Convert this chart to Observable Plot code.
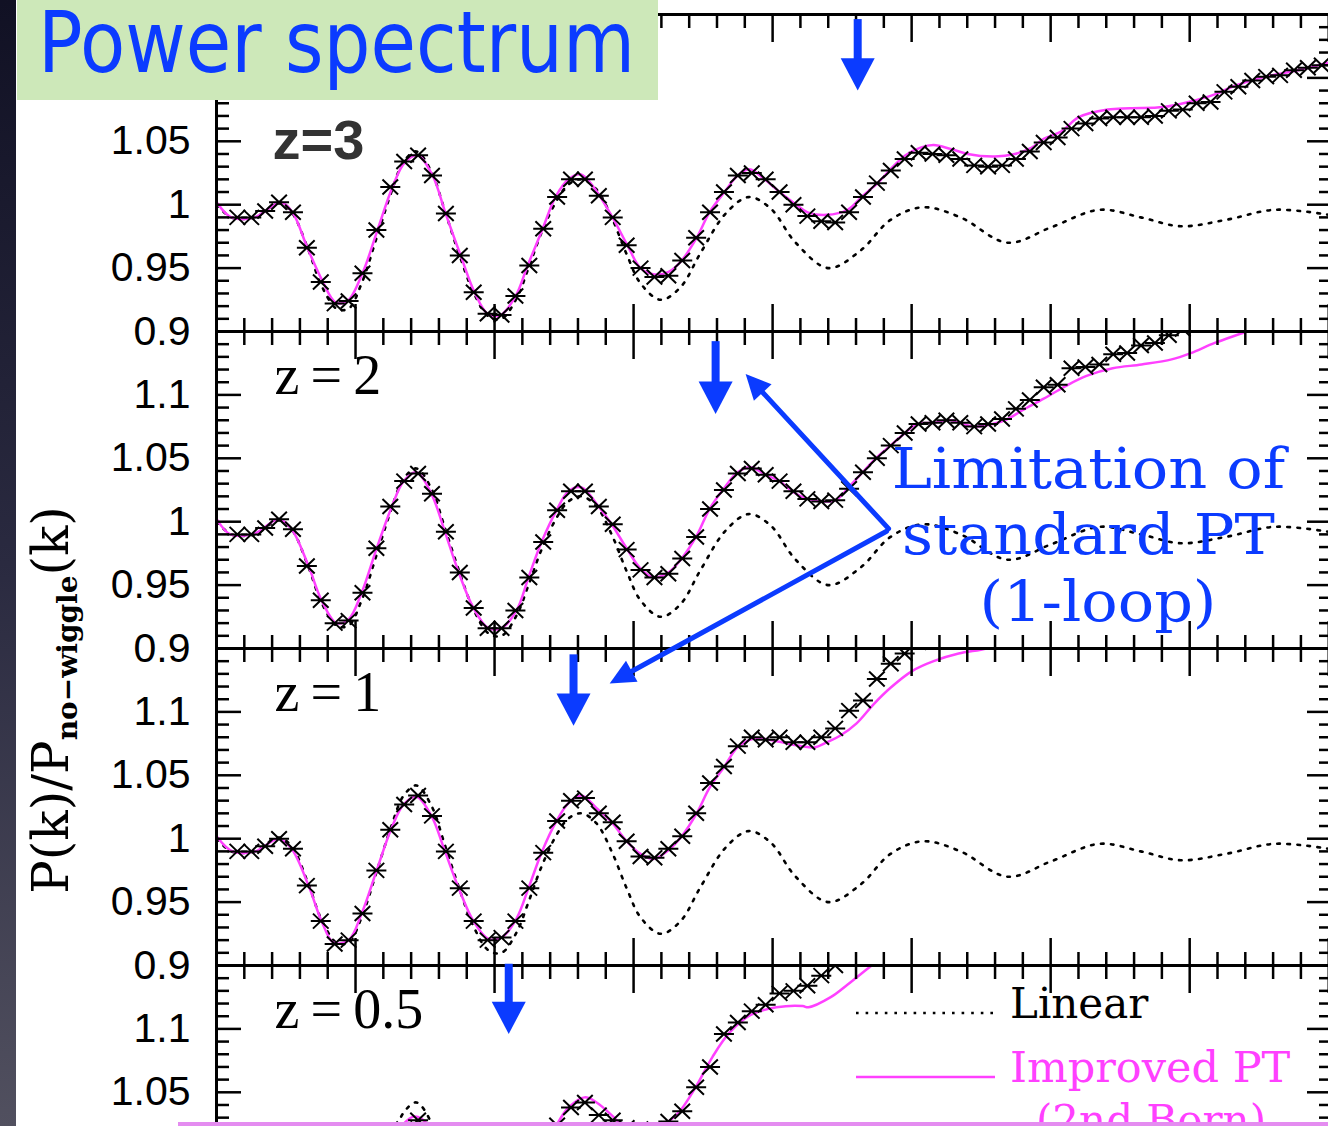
<!DOCTYPE html>
<html><head><meta charset="utf-8">
<script src="https://cdn.jsdelivr.net/npm/d3@7"></script>
<script src="https://cdn.jsdelivr.net/npm/@observablehq/plot@0.6"></script>
<style>
html,body{margin:0;padding:0;background:#fff;overflow:hidden;width:1328px;height:1126px;}
#wrap{position:relative;width:1328px;height:1126px;overflow:hidden;background:#fff;}
#chart{position:absolute;left:0;top:0;}
#overlay{position:absolute;left:0;top:0;pointer-events:none;}
</style></head>
<body><div id="wrap"><div id="chart"></div><svg id="overlay" width="1328" height="1126"></svg></div>
<script>
// ---------- data ----------
const PANELS = ["3", "2", "1", "0.5"];
const PANEL_LABELS = ["z=3", "z\u2009=\u20092", "z\u2009=\u20091", "z\u2009=\u20090.5"];

// Linear theory ratio (same in every panel)
const LIN_K = [0, 0.0054, 0.0137, 0.0223, 0.027, 0.0331, 0.0378, 0.0432, 0.0475, 0.0522, 0.0576, 0.0629, 0.0673, 0.0719, 0.0773, 0.082, 0.0871, 0.0924, 0.0978, 0.1025, 0.1079, 0.1122, 0.1169, 0.1223, 0.1266, 0.1313, 0.1367, 0.1421, 0.1475, 0.1525, 0.1597, 0.1669, 0.1741, 0.1831, 0.1914, 0.1993, 0.2083, 0.2201, 0.2317, 0.2424, 0.254, 0.2676, 0.2845, 0.3, 0.3176, 0.3324, 0.3468, 0.3629, 0.3806, 0.4];
const LIN_V = [1.000, 0.990, 0.990, 1.001, 0.994, 0.964, 0.936, 0.918, 0.918, 0.938, 0.974, 1.010, 1.034, 1.042, 1.026, 0.996, 0.962, 0.931, 0.912, 0.910, 0.926, 0.950, 0.978, 1.003, 1.016, 1.020, 1.012, 0.990, 0.961, 0.938, 0.925, 0.935, 0.962, 0.993, 1.006, 0.997, 0.970, 0.950, 0.964, 0.988, 0.998, 0.990, 0.970, 0.982, 0.996, 0.990, 0.983, 0.988, 0.996, 0.992];

// Improved PT (2nd Born)
const PT3_K = [0.0004, 0.0054, 0.0137, 0.023, 0.0273, 0.0327, 0.0381, 0.0428, 0.0471, 0.0525, 0.0579, 0.0633, 0.0676, 0.0723, 0.0777, 0.0824, 0.0878, 0.0928, 0.0975, 0.1022, 0.1076, 0.1119, 0.1173, 0.1219, 0.1266, 0.1309, 0.1356, 0.1424, 0.1478, 0.1525, 0.1576, 0.1626, 0.1673, 0.1727, 0.1773, 0.1827, 0.1874, 0.1917, 0.1971, 0.2025, 0.2079, 0.2126, 0.2194, 0.227, 0.2324, 0.2378, 0.2424, 0.2478, 0.2532, 0.2579, 0.264, 0.2701, 0.2799, 0.2871, 0.2932, 0.2975, 0.304, 0.3101, 0.3205, 0.3284, 0.3406, 0.3496, 0.359, 0.3665, 0.3773, 0.3867, 0.4];
const PT3_V = [1.001, 0.990, 0.990, 1.002, 0.994, 0.966, 0.940, 0.923, 0.924, 0.946, 0.980, 1.014, 1.033, 1.039, 1.023, 0.993, 0.960, 0.931, 0.914, 0.913, 0.928, 0.952, 0.981, 1.006, 1.020, 1.024, 1.014, 0.990, 0.968, 0.950, 0.945, 0.947, 0.956, 0.974, 0.994, 1.010, 1.023, 1.028, 1.020, 1.010, 1.001, 0.994, 0.992, 0.996, 1.007, 1.017, 1.028, 1.039, 1.045, 1.047, 1.044, 1.040, 1.038, 1.040, 1.045, 1.052, 1.058, 1.069, 1.075, 1.076, 1.077, 1.081, 1.087, 1.094, 1.101, 1.105, 1.112];

const PT2_K = [0.0004, 0.005, 0.014, 0.0223, 0.027, 0.0331, 0.0378, 0.0432, 0.0475, 0.0522, 0.0576, 0.0629, 0.0673, 0.0719, 0.0773, 0.082, 0.0871, 0.0924, 0.0978, 0.1025, 0.1079, 0.1122, 0.1169, 0.1223, 0.1266, 0.1313, 0.1374, 0.1421, 0.1475, 0.1525, 0.1572, 0.1626, 0.1673, 0.1727, 0.1773, 0.1824, 0.1874, 0.1921, 0.1975, 0.2025, 0.2076, 0.2126, 0.2173, 0.2227, 0.2273, 0.2324, 0.2371, 0.2424, 0.2471, 0.2518, 0.2579, 0.264, 0.2723, 0.2791, 0.2845, 0.2899, 0.2975, 0.3054, 0.3129, 0.3223, 0.3327, 0.3435, 0.3504, 0.359, 0.3705, 0.3827];
const PT2_V = [1.001, 0.990, 0.991, 1.002, 0.994, 0.965, 0.938, 0.920, 0.923, 0.944, 0.979, 1.011, 1.032, 1.039, 1.022, 0.993, 0.960, 0.932, 0.916, 0.916, 0.930, 0.956, 0.984, 1.009, 1.024, 1.027, 1.012, 0.998, 0.979, 0.963, 0.956, 0.960, 0.971, 0.989, 1.010, 1.026, 1.039, 1.043, 1.037, 1.032, 1.023, 1.018, 1.016, 1.017, 1.027, 1.039, 1.050, 1.060, 1.069, 1.077, 1.078, 1.080, 1.075, 1.077, 1.081, 1.088, 1.097, 1.107, 1.115, 1.121, 1.124, 1.128, 1.133, 1.141, 1.150, 1.160];

const PT1_K = [0.0004, 0.0058, 0.014, 0.0223, 0.027, 0.0331, 0.0378, 0.0421, 0.0475, 0.0522, 0.0576, 0.0629, 0.0673, 0.0719, 0.0773, 0.082, 0.0871, 0.0924, 0.0978, 0.1025, 0.1079, 0.1122, 0.1169, 0.1223, 0.1266, 0.1313, 0.1367, 0.1421, 0.1475, 0.1525, 0.1572, 0.1626, 0.1673, 0.1727, 0.1773, 0.1827, 0.1874, 0.1935, 0.2011, 0.2104, 0.2151, 0.2194, 0.2241, 0.2302, 0.2363, 0.2424, 0.25, 0.2579, 0.2669, 0.277, 0.2856];
const PT1_V = [1.001, 0.990, 0.990, 1.000, 0.992, 0.963, 0.935, 0.918, 0.920, 0.941, 0.975, 1.008, 1.027, 1.033, 1.018, 0.991, 0.961, 0.935, 0.921, 0.922, 0.937, 0.961, 0.989, 1.014, 1.028, 1.034, 1.024, 1.013, 0.998, 0.988, 0.984, 0.991, 1.002, 1.020, 1.040, 1.057, 1.072, 1.079, 1.077, 1.073, 1.072, 1.076, 1.081, 1.091, 1.106, 1.119, 1.132, 1.140, 1.146, 1.150, 1.156];

const PT05_K = [0.0004, 0.0058, 0.014, 0.0223, 0.027, 0.0331, 0.0378, 0.0432, 0.0475, 0.0522, 0.0576, 0.0629, 0.0669, 0.0712, 0.0763, 0.082, 0.0871, 0.0924, 0.0978, 0.1025, 0.1079, 0.1122, 0.1169, 0.1223, 0.1266, 0.1324, 0.1367, 0.1421, 0.146, 0.1525, 0.1572, 0.1608, 0.1662, 0.1723, 0.1784, 0.1845, 0.1921, 0.2014, 0.2108, 0.2129, 0.2209, 0.227, 0.2356, 0.2446];
const PT05_V = [1.001, 0.991, 0.991, 1.000, 0.993, 0.968, 0.944, 0.929, 0.930, 0.947, 0.977, 1.006, 1.024, 1.031, 1.024, 0.993, 0.966, 0.944, 0.933, 0.935, 0.950, 0.973, 0.998, 1.024, 1.038, 1.046, 1.042, 1.032, 1.024, 1.016, 1.018, 1.024, 1.034, 1.054, 1.078, 1.097, 1.111, 1.117, 1.118, 1.117, 1.125, 1.135, 1.150, 1.165];

// N-body measurements (bin centres)
const K_NB = [0.0075, 0.0125, 0.0175, 0.0225, 0.0275, 0.0325, 0.0375, 0.0425, 0.0475, 0.0525, 0.0575, 0.0625, 0.0675, 0.0725, 0.0775, 0.0825, 0.0875, 0.0925, 0.0975, 0.1025, 0.1075, 0.1125, 0.1175, 0.1225, 0.1275, 0.1325, 0.1375, 0.1425, 0.1475, 0.1525, 0.1575, 0.1625, 0.1675, 0.1725, 0.1775, 0.1825, 0.1875, 0.1925, 0.1975, 0.2025, 0.2075, 0.2125, 0.2175, 0.2225, 0.2275, 0.2325, 0.2375, 0.2425, 0.2475, 0.2525, 0.2575, 0.2625, 0.2675, 0.2725, 0.2775, 0.2825, 0.2875, 0.2925, 0.2975, 0.3025, 0.3075, 0.3125, 0.3175, 0.3225, 0.3275, 0.3325, 0.3375, 0.3425, 0.3475, 0.3525, 0.3575, 0.3625, 0.3675, 0.3725, 0.3775, 0.3825, 0.3875, 0.3925, 0.3975];
const NB3 = [0.990, 0.990, 0.995, 1.002, 0.994, 0.966, 0.939, 0.922, 0.924, 0.946, 0.980, 1.014, 1.034, 1.039, 1.023, 0.993, 0.960, 0.931, 0.914, 0.913, 0.928, 0.952, 0.981, 1.006, 1.020, 1.020, 1.007, 0.990, 0.968, 0.950, 0.943, 0.944, 0.956, 0.974, 0.994, 1.010, 1.023, 1.025, 1.020, 1.010, 1.000, 0.991, 0.987, 0.986, 0.994, 1.006, 1.017, 1.027, 1.036, 1.041, 1.040, 1.039, 1.036, 1.031, 1.030, 1.031, 1.036, 1.042, 1.049, 1.053, 1.060, 1.064, 1.068, 1.069, 1.069, 1.069, 1.070, 1.074, 1.075, 1.080, 1.081, 1.089, 1.093, 1.098, 1.101, 1.102, 1.106, 1.108, 1.110];
const NB2 = [0.990, 0.990, 0.995, 1.002, 0.994, 0.965, 0.938, 0.920, 0.922, 0.944, 0.979, 1.012, 1.032, 1.038, 1.022, 0.992, 0.960, 0.932, 0.916, 0.916, 0.930, 0.956, 0.984, 1.009, 1.024, 1.024, 1.012, 0.998, 0.978, 0.962, 0.956, 0.959, 0.971, 0.988, 1.010, 1.025, 1.038, 1.042, 1.037, 1.032, 1.024, 1.018, 1.016, 1.017, 1.026, 1.039, 1.050, 1.060, 1.070, 1.077, 1.078, 1.080, 1.078, 1.075, 1.077, 1.081, 1.089, 1.096, 1.106, 1.108, 1.121, 1.122, 1.124, 1.132, 1.133, 1.139, 1.141, 1.147, 1.152, 1.158];
const NB1 = [0.990, 0.990, 0.994, 1.000, 0.992, 0.963, 0.935, 0.917, 0.920, 0.941, 0.975, 1.007, 1.027, 1.034, 1.018, 0.990, 0.961, 0.935, 0.920, 0.922, 0.935, 0.961, 0.989, 1.014, 1.030, 1.032, 1.020, 1.013, 0.998, 0.986, 0.985, 0.992, 1.002, 1.020, 1.044, 1.057, 1.073, 1.080, 1.078, 1.080, 1.076, 1.076, 1.080, 1.087, 1.101, 1.109, 1.126, 1.138, 1.146, 1.155];
const NB05 = [0.990, 0.990, 0.994, 1.000, 0.993, 0.966, 0.940, 0.925, 0.926, 0.945, 0.975, 1.004, 1.021, 1.028, 1.016, 0.991, 0.963, 0.941, 0.930, 0.932, 0.948, 0.975, 1.002, 1.024, 1.038, 1.042, 1.032, 1.028, 1.022, 1.019, 1.021, 1.027, 1.035, 1.054, 1.070, 1.096, 1.105, 1.114, 1.119, 1.128, 1.130, 1.134, 1.142, 1.150, 1.160];

// Annotation arrows
const ARROW_K = [0.2306, 0.1795, 0.1284, 0.1051];
const ARROW_TOP = [1.146, 1.142, 1.145, 1.151];
const ARROW_TIP = [1.090, 1.085, 1.089, 1.096];
// diagonal arrows from the "Limitation of standard PT" label (panel z=2)
const DIAG_K1 = [0.2417, 0.2410];
const DIAG_V1 = [0.9945, 0.9925];
const DIAG_K2 = [0.1903, 0.1414];
const DIAG_V2 = [1.1165, 0.8724];
const DIAG_ROT = [137.3, 61.2];

// Axis ticks
const Y_MAJOR = [0.9, 0.95, 1, 1.05, 1.1];
const Y_MINOR = [0.91, 0.92, 0.93, 0.94, 0.96, 0.97, 0.98, 0.99, 1.01, 1.02, 1.03, 1.04, 1.06, 1.07, 1.08, 1.09, 1.11, 1.12, 1.13, 1.14];
const X_MAJOR = [0.05, 0.1, 0.15, 0.2, 0.25, 0.3, 0.35, 0.4];
const X_MINOR = [0.01, 0.02, 0.03, 0.04, 0.06, 0.07, 0.08, 0.09, 0.11, 0.12, 0.13, 0.14, 0.16, 0.17, 0.18, 0.19, 0.21, 0.22, 0.23, 0.24, 0.26, 0.27, 0.28, 0.29, 0.31, 0.32, 0.33, 0.34, 0.36, 0.37, 0.38, 0.39];
// y tick labels shown in each panel (the others are hidden by the title box or the page edge)
const YLAB_3 = [0.9, 0.95, 1, 1.05];
const YLAB_2 = [0.9, 0.95, 1, 1.05, 1.1];
const YLAB_1 = [0.9, 0.95, 1, 1.05, 1.1];
const YLAB_05 = [1.05, 1.1];

// ---------- build tables ----------
const rows = (panel, ks, vs) => vs.map((v, i) => ({panel, k: ks[i], v}));
const linRows = PANELS.flatMap(p => rows(p, LIN_K, LIN_V));
const ptRows = [...rows("3", PT3_K, PT3_V), ...rows("2", PT2_K, PT2_V), ...rows("1", PT1_K, PT1_V), ...rows("0.5", PT05_K, PT05_V)];
const nbRows = [...rows("3", K_NB, NB3), ...rows("2", K_NB, NB2), ...rows("1", K_NB, NB1), ...rows("0.5", K_NB, NB05)];
const labelRows = PANELS.map((p, i) => ({panel: p, label: PANEL_LABELS[i]}));
const arrowRows = PANELS.map((p, i) => ({panel: p, k: ARROW_K[i], top: ARROW_TOP[i], tip: ARROW_TIP[i]}));
const diagRows = DIAG_K1.map((k1, i) => ({panel: "2", k1, v1: DIAG_V1[i], k2: DIAG_K2[i], v2: DIAG_V2[i], rot: DIAG_ROT[i]}));
const ylabRows = [["3", YLAB_3], ["2", YLAB_2], ["1", YLAB_1], ["0.5", YLAB_05]].flatMap(([panel, vs]) => vs.map(v => ({panel, v})));

const BLUE = "#0b3bff";
const MAGENTA = "#ff40ff";

const STAR = {draw(ctx, size) {
  const s = Math.sqrt(size / Math.PI);
  ctx.moveTo(-s, 0); ctx.lineTo(s, 0);
  ctx.moveTo(-0.78 * s, -0.75 * s); ctx.lineTo(0.78 * s, 0.75 * s);
  ctx.moveTo(-0.78 * s, 0.75 * s); ctx.lineTo(0.78 * s, -0.75 * s);
}};
const HEAD_BIG = {draw(ctx, size) {
  const s = Math.sqrt(size / Math.PI);
  ctx.moveTo(0, 0); ctx.lineTo(-s, -1.9 * s); ctx.lineTo(s, -1.9 * s); ctx.closePath();
}};
const HEAD_SLIM = {draw(ctx, size) {
  const s = Math.sqrt(size / Math.PI);
  ctx.moveTo(0, 0); ctx.lineTo(-s, -2.1 * s); ctx.lineTo(s, -2.1 * s); ctx.closePath();
}};

const fmt = d => String(Math.round(d * 100) / 100);
const blank = () => "";

const tickX = (anchor, ticks, size) => Plot.axisX({anchor, ticks, tickSize: -size, tickFormat: blank, facetAnchor: null, label: null, strokeWidth: 2.5});
const tickY = (anchor, ticks, size) => Plot.axisY({anchor, ticks, tickSize: -size, tickFormat: blank, label: null, strokeWidth: 2.5});

const chart = Plot.plot({
  width: 1331,
  height: 1290,
  marginLeft: 216,
  marginRight: 0,
  marginTop: 13,
  marginBottom: 7,
  x: {domain: [0, 0.401]},
  y: {domain: [0.9, 1.15]},
  fy: {domain: PANELS, padding: 0, axis: null},
  style: {background: "white", maxWidth: "none", color: "black", fontFamily: "Liberation Sans"},
  marks: [
    Plot.line(linRows, {x: "k", y: "v", fy: "panel", stroke: "black", strokeWidth: 2.6, strokeDasharray: "2.6 7.4", curve: "catmull-rom", clip: true}),
    Plot.line(ptRows, {x: "k", y: "v", fy: "panel", stroke: MAGENTA, strokeWidth: 2.5, curve: "catmull-rom", clip: true}),
    Plot.dot(nbRows, {x: "k", y: "v", fy: "panel", symbol: STAR, r: 10, stroke: "black", strokeWidth: 2, fill: "none", clip: true}),
    // axes (ticks pointing inward)
    tickY("left", Y_MINOR, 13),
    tickY("left", Y_MAJOR, 25),
    tickY("right", Y_MINOR, 13),
    tickY("right", Y_MAJOR, 25),
    Plot.text(ylabRows, {fy: "panel", y: "v", text: d => fmt(d.v), frameAnchor: "left", dx: -26, textAnchor: "end", lineAnchor: "middle", fontSize: 41, fontFamily: "Liberation Sans", fill: "black"}),
    tickX("top", X_MINOR, 13),
    tickX("top", X_MAJOR, 27),
    tickX("bottom", X_MINOR, 13),
    tickX("bottom", X_MAJOR, 27),
    Plot.frame({stroke: "black", strokeWidth: 3}),
    // panel labels
    Plot.text(labelRows.filter(d => d.panel === "3"), {fy: "panel", text: "label", frameAnchor: "top-left", dx: 56, dy: 105, lineAnchor: "top", textAnchor: "start", fontFamily: "Liberation Sans", fontWeight: "bold", fontSize: 56, fill: "#333"}),
    Plot.text(labelRows.filter(d => d.panel !== "3"), {fy: "panel", text: "label", frameAnchor: "top-left", dx: 58, dy: 23, lineAnchor: "top", textAnchor: "start", fontFamily: "Liberation Serif", fontSize: 56, fill: "black"}),
    // vertical arrows
    Plot.ruleX(arrowRows, {x: "k", y1: "top", y2: "tip", fy: "panel", stroke: BLUE, strokeWidth: 8, insetBottom: 18}),
    Plot.dot(arrowRows, {x: "k", y: "tip", fy: "panel", symbol: HEAD_BIG, r: 17, fill: BLUE, stroke: "none"}),
    // diagonal arrows
    Plot.arrow(diagRows, {x1: "k1", y1: "v1", x2: "k2", y2: "v2", fy: "panel", stroke: BLUE, strokeWidth: 5, headLength: 0, insetEnd: 14}),
    Plot.dot(diagRows, {x: "k2", y: "v2", fy: "panel", symbol: HEAD_SLIM, r: 12, rotate: "rot", fill: BLUE, stroke: "none"})
  ]
});
document.getElementById("chart").appendChild(chart);

// ---------- overlay: slide decorations, title, y label, annotation, legend ----------
const ov = document.getElementById("overlay");
ov.innerHTML = `
<defs><linearGradient id="strip" x1="0" y1="0" x2="0" y2="1">
<stop offset="0" stop-color="#111124"/><stop offset="0.5" stop-color="#2a2a40"/><stop offset="1" stop-color="#51505f"/>
</linearGradient></defs>
<rect x="0" y="0" width="16" height="1126" fill="url(#strip)"/>
<rect x="17" y="0" width="641" height="100" fill="#cde8b9"/>
<text transform="translate(38,72) scale(0.87,1)" font-family="DejaVu Sans" font-size="85" fill="${BLUE}">Power spectrum</text>
<g transform="translate(68,700) rotate(-90)">
<text text-anchor="middle" font-family="DejaVu Serif" font-size="50" fill="#000">P(k)/P<tspan font-size="28" font-weight="bold" dy="9">no\u2212wiggle</tspan><tspan dy="-9">(k)</tspan></text>
</g>
<g transform="translate(1098,0) scale(1.08,1)">
<text font-family="DejaVu Serif" font-size="56" fill="${BLUE}" text-anchor="middle">
<tspan x="0" y="488">Limitation of</tspan>
<tspan x="0" y="554">standard PT</tspan>
<tspan x="0" y="621">(1-loop)</tspan>
</text>
</g>
<line x1="856" y1="1013" x2="995" y2="1013" stroke="#000" stroke-width="2.6" stroke-dasharray="2.6 7"/>
<text x="1010" y="1018" font-family="DejaVu Serif" font-size="42" fill="#000">Linear</text>
<line x1="856" y1="1077" x2="995" y2="1077" stroke="${MAGENTA}" stroke-width="2.5"/>
<text x="1010" y="1082" font-family="DejaVu Serif" font-size="43" fill="${MAGENTA}">Improved PT</text>
<text x="1151" y="1135" text-anchor="middle" font-family="DejaVu Serif" font-size="42" fill="${MAGENTA}">(2nd Born)</text>
<rect x="178" y="1122" width="1150" height="6" fill="#e48cf0"/>
`;
</script></body></html>
